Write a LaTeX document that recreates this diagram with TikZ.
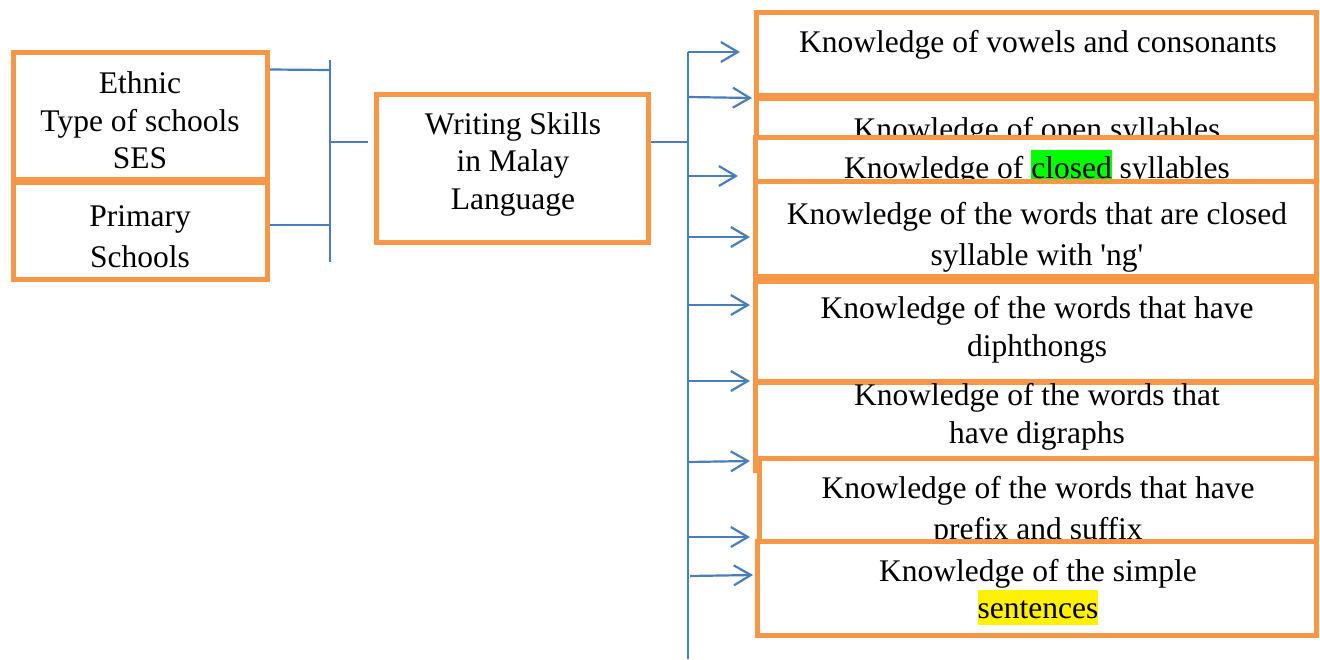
\documentclass[tikz,border=0pt]{standalone}
\usepackage{fontspec}
\setmainfont{Liberation Serif}
\usetikzlibrary{arrows.meta}

\definecolor{boxorange}{HTML}{F79646}
\definecolor{linkblue}{HTML}{4A7EBB}

% highlighted word, as in a word processor
\newcommand{\hilite}[2]{{\setlength{\fboxsep}{0pt}\colorbox{#1}{\rule[-0.216em]{0pt}{1.107em}#2}}}

\begin{document}
\begin{tikzpicture}
    [ x=1pt, y=-1pt,
    box/.style={draw=boxorange, line width=5pt, fill=white, inner sep=0pt},
    txt/.style={align=center, anchor=base, inner sep=0pt, font=\fontsize{31.5}{37.5}\selectfont},
    wide/.style={font=\fontsize{31.5}{41}\selectfont},
    link/.style={draw=linkblue, line width=2.2pt},
    arr/.style={link, -{Straight Barb[length=17pt,width=20pt]}}
    ]

    \useasboundingbox (0,0) rectangle (1320,659);

    % factors on the left (text placed by its last baseline)
    \node[box, minimum width=254pt, minimum height=127pt] (eth) at (140.5,116) {};
    \node[txt] (ethT) at (140,168.5) {Ethnic\\Type of schools\\SES};
    \node[box, minimum width=254pt, minimum height=96.5pt] (pri) at (140.5,230.75) {};
    \node[txt, wide] (priT) at (140,267) {Primary\\Schools};

    % main skill
    \node[box, minimum width=272pt, minimum height=148pt] (wsk) at (512.5,168.5) {};
    \node[txt] (wskT) at (513,209) {Writing Skills\\in Malay\\Language};

    % sub-skills, each one drawn over the one before
    \node[box, minimum width=560pt, minimum height=82.5pt] (kvc) at (1036,53.75) {};
    \node[txt] (kvcT) at (1038,52.5) {Knowledge of vowels and consonants};
    \node[box, minimum width=560pt, minimum height=82pt] (kos) at (1036,139) {};
    \node[txt] (kosT) at (1037,139) {Knowledge of open syllables};
    \node[box, minimum width=561pt, minimum height=92.5pt] (kcs) at (1035.5,183.75) {};
    \node[txt] (kcsT) at (1037,178) {Knowledge of \hilite{green}{closed} syllables};
    \node[box, minimum width=561pt, minimum height=95pt] (kng) at (1035.5,228.5) {};
    \node[txt, wide] (kngT) at (1037,265) {Knowledge of the words that are closed\\syllable with \textquotesingle ng\textquotesingle};
    \node[box, minimum width=561pt, minimum height=100pt] (kdi) at (1035.5,331) {};
    \node[txt] (kdiT) at (1037,356) {Knowledge of the words that have\\diphthongs};
    \node[box, minimum width=561pt, minimum height=88pt] (kdg) at (1035.5,426) {};
    \node[txt] (kdgT) at (1037,443) {Knowledge of the words that\\have digraphs};
    \node[box, minimum width=557pt, minimum height=102pt] (kps) at (1037.5,509) {};
    \node[txt, wide] (kpsT) at (1038,539.5) {Knowledge of the words that have\\prefix and suffix};
    \node[box, minimum width=559pt, minimum height=94pt] (kss) at (1036.5,588) {};
    \node[txt] (kssT) at (1038,618.5) {Knowledge of the simple\\\hilite{yellow}{sentences}};

    % left bus
    \coordinate (lbT) at (330,60);
    \coordinate (lbB) at (330,262);
    \draw[link] (lbT) -- (lbB);
    \draw[link] ([yshift=-19.5pt]eth.north east) -- (330,70);
    \draw[link] (pri.east |- 0,225) -- (330,225);
    \draw[link, shorten >=6pt] (330,142) -- (wsk.west |- 0,142);

    % right bus
    \coordinate (rbT) at (688,52);
    \coordinate (rbB) at (688,659);
    \draw[link] (rbT) -- (rbB);
    \draw[link] (wsk.east |- 0,142) -- (rbT |- 0,142);

    \draw[arr] (rbT) -- +(52,0);
    \draw[arr] (rbT |- 0,97) -- +(64,1);
    \draw[arr] (rbT |- 0,176) -- +(50,0);
    \draw[arr] (rbT |- 0,237) -- +(62,0);
    \draw[arr] (rbT |- 0,305) -- +(62,0);
    \draw[arr] (rbT |- 0,381) -- +(62,0);
    \draw[arr] (rbT |- 0,462) -- +(62,-1);
    \draw[arr] (rbT |- 0,537) -- +(62,0);
    \draw[arr] (690,576) -- +(63,-1);
  \end{tikzpicture}
\end{document}
